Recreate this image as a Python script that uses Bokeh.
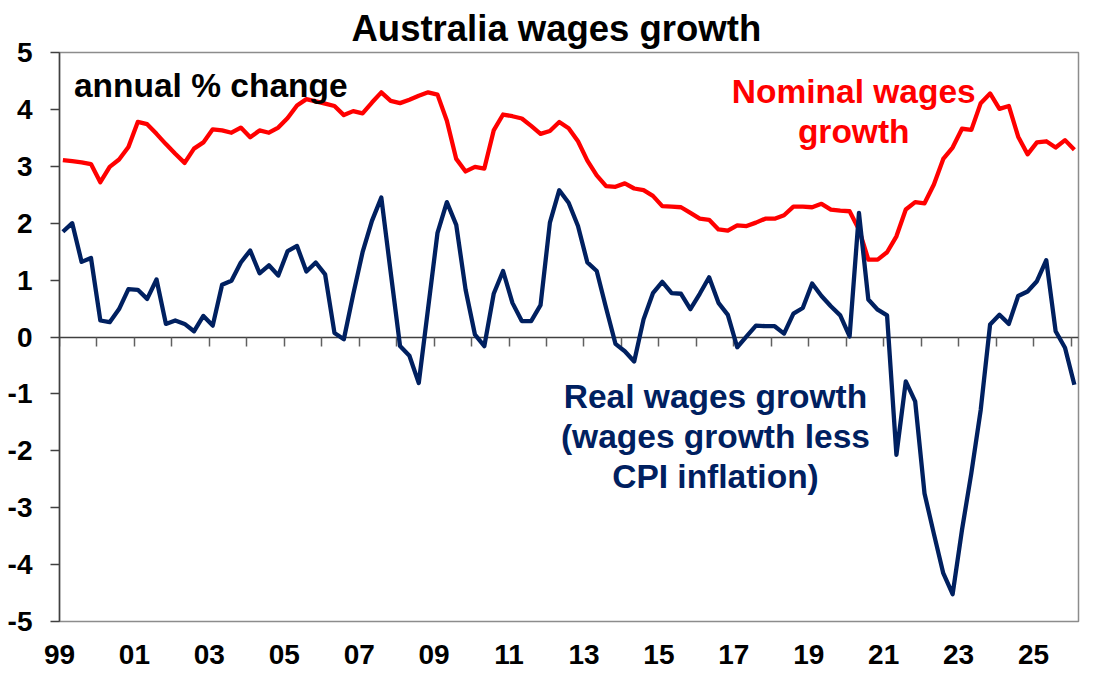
import numpy as np
from bokeh.plotting import figure
from bokeh.models import LinearAxis, FixedTicker, Label, Range1d
from bokeh.embed import file_html
from bokeh.resources import INLINE

# Quarterly data, Q1 1999 onwards (annual % change)
nominal = [3.11, 3.09, 3.07, 3.04, 2.72, 2.99, 3.12, 3.34, 3.78, 3.74,
           3.57, 3.39, 3.22, 3.06, 3.31, 3.42, 3.65, 3.63, 3.59, 3.68,
           3.51, 3.63, 3.59, 3.68, 3.85, 4.07, 4.18, 4.14, 4.10, 4.06,
           3.90, 3.97, 3.93, 4.12, 4.30, 4.15, 4.11, 4.17, 4.24, 4.30,
           4.26, 3.80, 3.13, 2.91, 2.99, 2.96, 3.63, 3.91, 3.88, 3.84,
           3.71, 3.57, 3.62, 3.78, 3.67, 3.44, 3.10, 2.84, 2.65, 2.64,
           2.70, 2.61, 2.58, 2.48, 2.30, 2.29, 2.28, 2.18, 2.08, 2.06,
           1.89, 1.87, 1.96, 1.95, 2.01, 2.08, 2.08, 2.14, 2.29, 2.29,
           2.28, 2.34, 2.24, 2.22, 2.21, 1.89, 1.36, 1.36, 1.49, 1.77,
           2.24, 2.37, 2.35, 2.68, 3.13, 3.33, 3.66, 3.64, 4.11, 4.28,
           4.01, 4.06, 3.52, 3.21, 3.42, 3.44, 3.33, 3.46, 3.29]

real = [1.85, 2.00, 1.32, 1.39, 0.29, 0.26, 0.49, 0.84, 0.83, 0.67,
        1.01, 0.23, 0.29, 0.23, 0.10, 0.37, 0.20, 0.92, 0.99, 1.31,
        1.52, 1.12, 1.26, 1.08, 1.51, 1.60, 1.15, 1.31, 1.10, 0.07,
        -0.04, 0.75, 1.49, 2.04, 2.45, 1.14, -0.16, -0.33, -0.81, 0.51,
        1.83, 2.37, 1.97, 0.83, 0.04, -0.16, 0.76, 1.16, 0.60, 0.28,
        0.28, 0.56, 2.01, 2.58, 2.36, 1.95, 1.31, 1.16, 0.51, -0.12,
        -0.25, -0.43, 0.31, 0.77, 0.97, 0.77, 0.76, 0.49, 0.76, 1.05,
        0.60, 0.39, -0.18, 0.01, 0.20, 0.19, 0.19, 0.06, 0.41, 0.51,
        0.94, 0.72, 0.54, 0.38, 0.01, 2.18, 0.66, 0.48, 0.38, -2.07,
        -0.78, -1.13, -2.75, -3.46, -4.15, -4.52, -3.39, -2.39, -1.28, 0.22,
        0.39, 0.23, 0.72, 0.80, 0.98, 1.35, 0.10, -0.19, -0.84]

start_year = 1999
tick_years = list(range(1999, 2027))
label_years = list(range(1999, 2026, 2))
y_ticks = list(range(-5, 6))

RED = "#FF0000"
NAVY = "#002060"
FONT = "Liberation Sans"

x = start_year + 0.09 + 0.25 * np.arange(len(nominal))

p = figure(width=1097, height=680, output_backend="svg", toolbar_location=None,
           x_range=Range1d(1999.0, 2026.2), y_range=Range1d(-5, 5),
           min_border_left=59, min_border_right=19, min_border_top=52,
           min_border_bottom=59, title="Australia wages growth")
p.title.align = "left"
p.title.offset = 292
p.title.standoff = 7
p.title.text_font = FONT
p.title.text_font_style = "bold"
p.title.text_font_size = "36.5px"
p.title.text_color = "black"

p.xgrid.visible = False
p.ygrid.visible = False
p.outline_line_color = "#8c8c8c"
p.outline_line_width = 1.5

xa = p.xaxis[0]
xa.ticker = FixedTicker(ticks=label_years)
xa.major_label_overrides = {yr: f"{yr % 100:02d}" for yr in label_years}
xa.major_tick_line_color = None
xa.minor_tick_line_color = None
xa.axis_line_color = None
xa.major_tick_out = 0
xa.major_tick_in = 0
xa.major_label_standoff = 23
xa.major_label_text_font = FONT
xa.major_label_text_font_style = "bold"
xa.major_label_text_font_size = "28px"
xa.major_label_text_color = "black"

ya = p.yaxis[0]
ya.ticker = FixedTicker(ticks=y_ticks)
ya.major_label_overrides = {v: str(v) for v in y_ticks}
ya.major_tick_out = 9
ya.major_tick_in = 0
ya.minor_tick_line_color = None
ya.axis_line_color = "#404040"
ya.axis_line_width = 1.5
ya.major_tick_line_color = "#404040"
ya.major_tick_line_width = 1.5
ya.major_label_standoff = 18
ya.major_label_text_font = FONT
ya.major_label_text_font_style = "bold"
ya.major_label_text_font_size = "28px"
ya.major_label_text_color = "black"

za = LinearAxis(fixed_location=0, ticker=FixedTicker(ticks=tick_years),
                major_tick_out=9, major_tick_in=0,
                axis_line_color="#404040", axis_line_width=1.5,
                major_tick_line_color="#606060", major_tick_line_width=1.5,
                minor_tick_line_color=None,
                major_label_overrides={yr: "" for yr in tick_years},
                major_label_text_font_size="1px", level="underlay")
p.add_layout(za, "below")

p.line(x, nominal, line_color=RED, line_width=4.3, line_join="round")
p.line(x, real, line_color=NAVY, line_width=4.3, line_join="round")

def lab(xv, yv, txt, color, size, align="center"):
    p.add_layout(Label(x=xv, y=yv, text=txt, text_color=color, text_font=FONT,
                       text_font_style="bold", text_font_size=size,
                       text_align=align, text_baseline="alphabetic"))

lab(1999.385, 4.42, "annual % change", "black", "33.5px", "left")
lab(2020.2, 4.32, "Nominal wages", RED, "33.5px")
lab(2020.2, 3.62, "growth", RED, "33.5px")
lab(2016.51, -1.046, "Real wages growth", NAVY, "33.5px")
lab(2016.51, -1.755, "(wages growth less", NAVY, "33.5px")
lab(2016.51, -2.454, "CPI inflation)", NAVY, "33.5px")

open("out.html", "w").write(file_html(p, INLINE))
